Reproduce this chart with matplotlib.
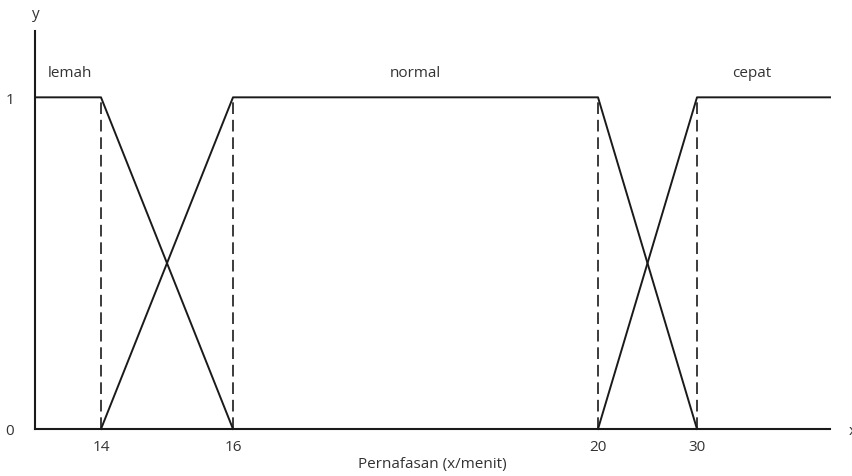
import numpy as np
import matplotlib
matplotlib.use("Agg")
import matplotlib.pyplot as plt

# Data
breakpoints = [14, 16, 20, 30]
x_start, x_end = 13, 44
lemah_x = [13, 14, 16]
lemah_y = [1, 1, 0]
normal_x = [14, 16, 20, 30]
normal_y = [0, 1, 1, 0]
cepat_x = [20, 30, 44]
cepat_y = [0, 1, 1]
set_names = ["lemah", "normal", "cepat"]
xtick_labels = ["14", "16", "20", "30"]
ytick_values = [0, 1]
xlabel = "Pernafasan (x/menit)"

# Non-linear scale as drawn in the figure (piecewise)
knot_vals = np.array([13, 14, 16, 20, 30, 44], dtype=float)
knot_pos = np.array([0, 66, 198, 563, 662, 795], dtype=float)

def fwd(v):
    return np.interp(v, knot_vals, knot_pos)

def inv(p):
    return np.interp(p, knot_pos, knot_vals)

plt.rcParams['font.family'] = ['Open Sans', 'DejaVu Sans']

W, H = 853, 477
fig = plt.figure(figsize=(W / 100, H / 100), dpi=100)
ax = fig.add_axes([35 / W, 47 / H, 795 / W, (430 - 32) / H])
ax.set_xscale('function', functions=(fwd, inv))
ax.set_xlim(x_start, x_end)
ax.set_ylim(0, 1.2)

lc = '#1a1a1a'
tc = '#333333'
fs = 11
ax.plot(lemah_x, lemah_y, color=lc, lw=1.4, clip_on=False)
ax.plot(normal_x, normal_y, color=lc, lw=1.4, clip_on=False)
ax.plot(cepat_x, cepat_y, color=lc, lw=1.4, clip_on=False)
for b in breakpoints:
    ax.plot([b, b], [0, 1], color=lc, lw=1.2, ls=(0, (7, 3.5)))

for s in ['top', 'right']:
    ax.spines[s].set_visible(False)
for s in ['left', 'bottom']:
    ax.spines[s].set_linewidth(1.5)
    ax.spines[s].set_color(lc)

ax.set_xticks(breakpoints)
ax.set_xticklabels(xtick_labels)
ax.set_yticks(ytick_values)
ax.set_yticklabels([str(v) for v in ytick_values])
ax.xaxis.set_minor_locator(matplotlib.ticker.NullLocator())
ax.tick_params(axis='x', length=0, pad=7, labelsize=fs, labelcolor=tc)
ax.tick_params(axis='y', length=0, pad=15, labelsize=fs, labelcolor=tc)
ax.set_xlabel(xlabel, fontsize=fs, color=tc, labelpad=2)

label_fx = [0.044, 0.478, 0.902]
for name, fx in zip(set_names, label_fx):
    ax.text(fx, 1.075, name, transform=ax.get_yaxis_transform(), ha='center', va='center',
            fontsize=fs, color=tc)

fig.text(36 / W, 1 - 15 / H, 'y', ha='center', va='center', fontsize=fs, color=tc)
fig.text(849 / W, 1 - 432 / H, 'x', ha='left', va='center', fontsize=fs, color=tc)

fig.savefig('out.png', dpi=100)
